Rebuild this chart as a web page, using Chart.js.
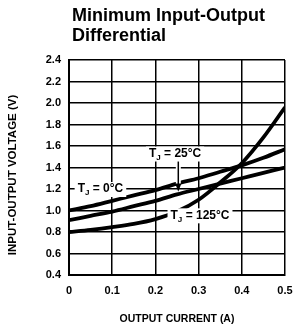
<!DOCTYPE html>
<html>
<head>
<meta charset="utf-8">
<script src="https://cdn.jsdelivr.net/npm/chart.js@4/dist/chart.umd.min.js"></script>
<style>
  html, body { margin: 0; padding: 0; background: #fff; }
  #wrap { position: relative; width: 295px; height: 327px; }
  #title { position: absolute; left: 72px; top: 5px; font-family: "Liberation Sans", Arial, sans-serif; font-weight: bold; font-size: 18px; line-height: 20px; color: #000; }
  canvas { position: absolute; left: 0; top: 0; }
</style>
</head>
<body>
<div id="wrap">
  <canvas id="c" width="295" height="327"></canvas>
  <div id="title">Minimum Input-Output<br>Differential</div>
</div>
<script>
// Data
const outputCurrent = [0, 0.05, 0.1, 0.15, 0.2, 0.25, 0.3, 0.35, 0.4, 0.45, 0.5];
const tj0   = [1.00, 1.04, 1.09, 1.14, 1.19, 1.25, 1.30, 1.36, 1.42, 1.49, 1.57];
const tj25  = [0.91, 0.95, 0.99, 1.04, 1.09, 1.15, 1.20, 1.25, 1.30, 1.35, 1.40];
const tj125 = [0.80, 0.82, 0.845, 0.875, 0.92, 0.99, 1.10, 1.26, 1.44, 1.68, 1.96];
const xTickLabels = ["0", "0.1", "0.2", "0.3", "0.4", "0.5"];
const yTickLabels = ["0.4", "0.6", "0.8", "1.0", "1.2", "1.4", "1.6", "1.8", "2.0", "2.2", "2.4"];
const yAxisTitle = "INPUT-OUTPUT VOLTAGE (V)";
const xAxisTitle = "OUTPUT CURRENT (A)";
const curveLabels = [
  { sub: "J", text: " = 0°C",   x: 0.02,  y: 1.20 },
  { sub: "J", text: " = 25°C",  x: 0.185, y: 1.53 },
  { sub: "J", text: " = 125°C", x: 0.235, y: 0.955 }
];
const arrow25 = { x: 0.253, yFrom: 1.46, yTo: 1.175 };

function pts(ys) { return outputCurrent.map((x, i) => ({ x: x, y: ys[i] })); }

const FONT = '"Liberation Sans", Arial, sans-serif';

const annotatePlugin = {
  id: 'annotate',
  afterDraw(chart) {
    const ctx = chart.ctx;
    ctx.save();
    // y-axis title
    ctx.translate(13, 175);
    ctx.rotate(-Math.PI / 2);
    ctx.font = 'bold 11.5px ' + FONT;
    ctx.fillStyle = '#000';
    ctx.textAlign = 'center';
    ctx.textBaseline = 'middle';
    ctx.fillText(yAxisTitle, 0, 0);
    ctx.restore();
  },
  afterDatasetsDraw(chart) {
    const ctx = chart.ctx;
    const xs = chart.scales.x, ys = chart.scales.y;
    ctx.save();
    // arrow for 25°C with white halo
    const ax = xs.getPixelForValue(arrow25.x);
    const ay1 = ys.getPixelForValue(arrow25.yFrom);
    const ay2 = ys.getPixelForValue(arrow25.yTo);
    ctx.strokeStyle = '#fff';
    ctx.lineWidth = 5;
    ctx.beginPath(); ctx.moveTo(ax, ay1); ctx.lineTo(ax, ay2 - 8); ctx.stroke();
    ctx.strokeStyle = '#000';
    ctx.lineWidth = 1.5;
    ctx.beginPath(); ctx.moveTo(ax, ay1); ctx.lineTo(ax, ay2 - 6); ctx.stroke();
    ctx.fillStyle = '#000';
    ctx.beginPath(); ctx.moveTo(ax, ay2); ctx.lineTo(ax - 3, ay2 - 8); ctx.lineTo(ax + 3, ay2 - 8); ctx.closePath(); ctx.fill();

    // curve labels
    ctx.textBaseline = 'middle';
    ctx.textAlign = 'left';
    curveLabels.forEach(l => {
      const px = xs.getPixelForValue(l.x);
      const py = ys.getPixelForValue(l.y);
      ctx.font = 'bold 12px ' + FONT;
      const wT = ctx.measureText('T').width;
      ctx.font = 'bold 8px ' + FONT;
      const wJ = ctx.measureText(l.sub).width;
      ctx.font = 'bold 12px ' + FONT;
      const wR = ctx.measureText(l.text).width;
      const w = wT + wJ + wR;
      ctx.fillStyle = '#fff';
      ctx.fillRect(px - 3, py - 7, w + 6, 15);
      ctx.fillStyle = '#000';
      ctx.font = 'bold 12px ' + FONT;
      ctx.fillText('T', px, py);
      ctx.font = 'bold 8px ' + FONT;
      ctx.fillText(l.sub, px + wT, py + 4);
      ctx.font = 'bold 12px ' + FONT;
      ctx.fillText(l.text, px + wT + wJ, py);
    });
    ctx.restore();
  }
};

const lineStyle = { borderColor: '#000', borderWidth: 3.8, pointRadius: 0, showLine: true, fill: false, cubicInterpolationMode: 'monotone' };

new Chart(document.getElementById('c'), {
  type: 'scatter',
  data: {
    datasets: [
      Object.assign({ label: 'TJ = 0°C',   data: pts(tj0) }, lineStyle),
      Object.assign({ label: 'TJ = 25°C',  data: pts(tj25) }, lineStyle),
      Object.assign({ label: 'TJ = 125°C', data: pts(tj125) }, lineStyle)
    ]
  },
  options: {
    responsive: false,
    animation: false,
    devicePixelRatio: 1,
    layout: { padding: { left: 4, right: 10, top: 60, bottom: 2 } },
    plugins: { legend: { display: false }, tooltip: { enabled: false }, title: { display: false } },
    scales: {
      x: {
        type: 'linear', min: 0, max: 0.5,
        afterFit(s) { s.height = 50; s.paddingLeft = 0; s.paddingRight = 0; },
        afterBuildTicks(s) { s.ticks = xTickLabels.map(t => ({ value: parseFloat(t) })); },
        ticks: { color: '#000', font: { family: FONT, size: 11, weight: 'bold' }, padding: 9, maxRotation: 0,
                 callback: (v, i) => xTickLabels[i] },
        grid: { color: '#000', lineWidth: 1.5, drawTicks: false },
        border: { color: '#000', width: 2 },
        title: { display: true, text: xAxisTitle, color: '#000', font: { family: FONT, size: 10.5, weight: 'bold' }, padding: { top: 10, bottom: 0 } }
      },
      y: {
        type: 'linear', min: 0.4, max: 2.4,
        afterFit(s) { s.width = 65; s.paddingTop = 0; s.paddingBottom = 0; },
        afterBuildTicks(s) { s.ticks = yTickLabels.map(t => ({ value: parseFloat(t) })); },
        ticks: { color: '#000', font: { family: FONT, size: 11, weight: 'bold' }, padding: 8,
                 callback: (v, i) => yTickLabels[i] },
        grid: { color: '#000', lineWidth: 1.5, drawTicks: false },
        border: { color: '#000', width: 2 },
        title: { display: false }
      }
    }
  },
  plugins: [annotatePlugin]
});
</script>
</body>
</html>
